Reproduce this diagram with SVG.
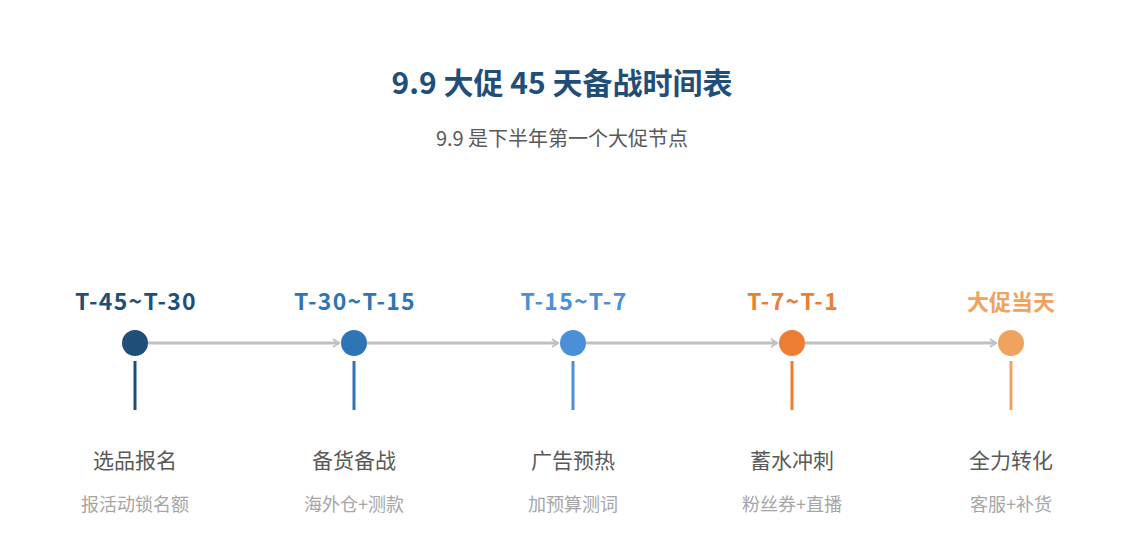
<svg xmlns="http://www.w3.org/2000/svg" width="1125" height="555" viewBox="0 0 1125 555">
<style>
text{font-family:"Noto Sans CJK SC","Noto Sans",sans-serif;text-anchor:middle}
.title{font-size:30px;font-weight:700;fill:#1f4e79}
.sub{font-size:20px;fill:#595959}
.lbl{font-size:23px;font-weight:700;letter-spacing:1.3px}
.lblc{font-size:22px;font-weight:700}
.name{font-size:21px;fill:#595959}
.desc{font-size:18px;fill:#a6a6a6}
.conn{stroke:#c0c0c0;stroke-width:3;fill:none}
</style>
<defs>
<marker id="arr" markerWidth="10" markerHeight="10" refX="7" refY="5" orient="auto" markerUnits="userSpaceOnUse">
<path d="M1,1 L7,5 L1,9" fill="none" stroke="#c0c0c0" stroke-width="2"/>
</marker>
</defs>
<rect width="1125" height="555" fill="#fff"/>
<text class="title" x="562" y="94">9.9 大促 45 天备战时间表</text>
<text class="sub" x="562" y="146">9.9 是下半年第一个大促节点</text>
<g id="connectors">
<line class="conn" x1="148" y1="343" x2="339" y2="343" marker-end="url(#arr)"/>
<line class="conn" x1="367" y1="343" x2="558" y2="343" marker-end="url(#arr)"/>
<line class="conn" x1="586" y1="343" x2="777" y2="343" marker-end="url(#arr)"/>
<line class="conn" x1="805" y1="343" x2="996" y2="343" marker-end="url(#arr)"/>
</g>
<g id="n1">
<text class="lbl" x="136" y="310" fill="#1f4e79">T-45~T-30</text>
<circle cx="135" cy="343" r="13" fill="#1f4e79"/>
<line x1="135" y1="361" x2="135" y2="410" stroke="#1f4e79" stroke-width="3"/>
<text class="name" x="135" y="468">选品报名</text>
<text class="desc" x="135" y="511">报活动锁名额</text>
</g>
<g id="n2">
<text class="lbl" x="355" y="310" fill="#2e75b6">T-30~T-15</text>
<circle cx="354" cy="343" r="13" fill="#2e75b6"/>
<line x1="354" y1="361" x2="354" y2="410" stroke="#2e75b6" stroke-width="3"/>
<text class="name" x="354" y="468">备货备战</text>
<text class="desc" x="354" y="511">海外仓+测款</text>
</g>
<g id="n3">
<text class="lbl" x="574" y="310" fill="#4a90d9">T-15~T-7</text>
<circle cx="573" cy="343" r="13" fill="#4a90d9"/>
<line x1="573" y1="361" x2="573" y2="410" stroke="#4a90d9" stroke-width="3"/>
<text class="name" x="573" y="468">广告预热</text>
<text class="desc" x="573" y="511">加预算测词</text>
</g>
<g id="n4">
<text class="lbl" x="793" y="310" fill="#ed7d31">T-7~T-1</text>
<circle cx="792" cy="343" r="13" fill="#ed7d31"/>
<line x1="792" y1="361" x2="792" y2="410" stroke="#ed7d31" stroke-width="3"/>
<text class="name" x="792" y="468">蓄水冲刺</text>
<text class="desc" x="792" y="511">粉丝券+直播</text>
</g>
<g id="n5">
<text class="lblc" x="1011" y="310" fill="#f0a35e">大促当天</text>
<circle cx="1011" cy="343" r="13" fill="#f0a35e"/>
<line x1="1011" y1="361" x2="1011" y2="410" stroke="#f0a35e" stroke-width="3"/>
<text class="name" x="1011" y="468">全力转化</text>
<text class="desc" x="1011" y="511">客服+补货</text>
</g>
</svg>
